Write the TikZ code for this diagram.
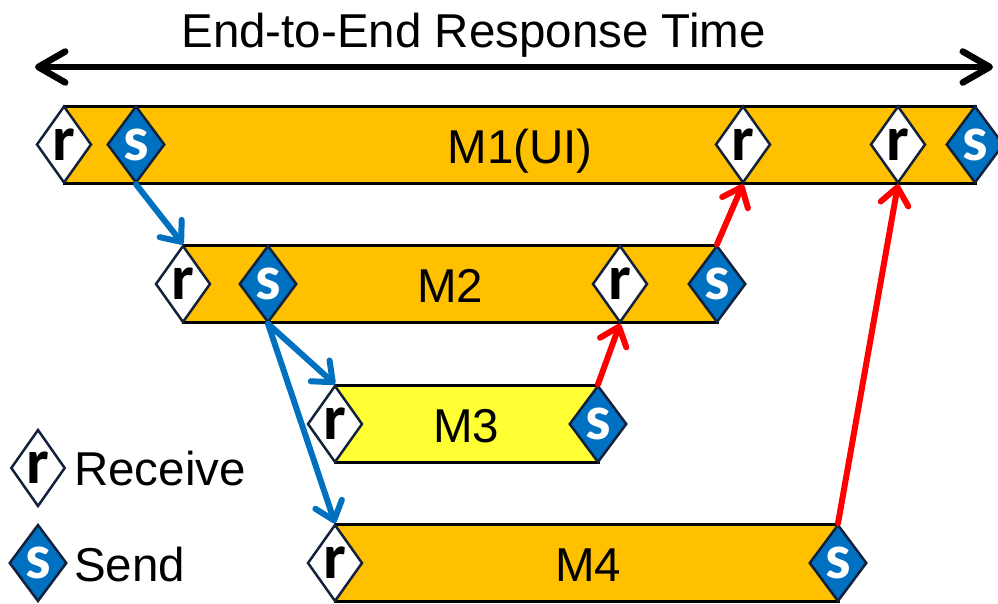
\documentclass[tikz,border=0pt]{standalone}
\usepackage{fontspec}
\setmainfont{Liberation Sans}
\newfontfamily\markfont{Carlito}
\usetikzlibrary{shapes.geometric,arrows.meta}

\definecolor{barorange}{HTML}{FFC000}
\definecolor{baryellow}{HTML}{FFFF33}
\definecolor{sendblue}{HTML}{0070C0}
\definecolor{edgenavy}{HTML}{14213D}
\definecolor{replyred}{HTML}{FF0000}

\tikzset{
  bar/.style={draw=black, line width=3pt, fill=barorange},
  eventmark/.style={diamond, draw=edgenavy, line width=2.5pt, inner sep=0pt,
    minimum width=55pt, minimum height=77pt,
    font=\markfont\bfseries\fontsize{64}{64}\selectfont},
  recvmark/.style={eventmark, fill=white, text=black},
  sendmark/.style={eventmark, fill=sendblue, text=white},
  bartext/.style={font=\fontsize{47.5}{50}\selectfont, inner sep=0pt, anchor=base},
  callarrow/.style={draw=sendblue, line width=6pt, line cap=round,
    -{Straight Barb[length=17pt, width=28pt, line cap=round, line join=round]}},
  replyarrow/.style={callarrow, draw=replyred},
  spanarrow/.style={draw=black, line width=6.5pt,
    {Straight Barb[length=27pt, width=31pt, line cap=round, line join=round]}-{Straight Barb[length=27pt, width=31pt, line cap=round, line join=round]}},
}

\begin{document}
\begin{tikzpicture}[x=1pt, y=-1pt]
  \useasboundingbox (0,0) rectangle (998,603);

  % end-to-end span
  \node[bartext] (title) at (473.5,47) {End-to-End Response Time};
  \coordinate (spanL) at (35,67);
  \coordinate (spanR) at (993,67);
  \draw[spanarrow] (spanL) -- (spanR);

  % event positions on each module bar
  \coordinate (r11) at (64,144.5);  \coordinate (s11) at (136,144.5);
  \coordinate (r12) at (743,144.5); \coordinate (r13) at (898,144.5);
  \coordinate (s12) at (975,144.5);
  \coordinate (r21) at (183,284);   \coordinate (s21) at (268,284);
  \coordinate (r22) at (620,284);   \coordinate (s22) at (717,284);
  \coordinate (r31) at (335,424);   \coordinate (s31) at (598,424);
  \coordinate (r41) at (335,563);   \coordinate (s41) at (838,563);

  % module bars
  \path[bar] ([yshift=38.5pt]r11) rectangle ([yshift=-38.5pt]s12);
  \path[bar] ([yshift=38.5pt]r21) rectangle ([yshift=-38.5pt]s22);
  \path[bar, fill=baryellow] ([yshift=38.5pt]r31) rectangle ([yshift=-38.5pt]s31);
  \path[bar] ([yshift=38.5pt]r41) rectangle ([yshift=-38.5pt]s41);

  \node[bartext] (m1) at (520,163) {M1(UI)};
  \node[bartext] (m2) at (450,302) {M2};
  \node[bartext] (m3) at (466,442) {M3};
  \node[bartext] (m4) at (588,581) {M4};

  % receive / send events
  \node[recvmark] (R11) at (r11) {r};
  \node[sendmark] (S11) at (s11) {s};
  \node[recvmark] (R12) at (r12) {r};
  \node[recvmark] (R13) at (r13) {r};
  \node[sendmark] (S12) at (s12) {s};
  \node[recvmark] (R21) at (r21) {r};
  \node[sendmark] (S21) at (s21) {s};
  \node[recvmark] (R22) at (r22) {r};
  \node[sendmark] (S22) at (s22) {s};
  \node[recvmark] (R31) at (r31) {r};
  \node[sendmark] (S31) at (s31) {s};
  \node[recvmark] (R41) at (r41) {r};
  \node[sendmark] (S41) at (s41) {s};

  % calls
  \draw[callarrow] (S11.south) -- (R21.north);
  \draw[callarrow] (S21.south) -- (R31.north);
  \draw[callarrow] (S21.south) -- (R41.north);

  % replies
  \draw[replyarrow] (S31.north) -- (R22.south);
  \draw[replyarrow] (S22.north) -- (R12.south);
  \draw[replyarrow] (S41.north) -- (R13.south);

  % legend
  \node[recvmark, minimum width=53pt] (keyR) at (38,468) {r};
  \node[bartext, anchor=base west] (keyRtext) at (74,485) {Receive};
  \node[sendmark, minimum width=53pt] (keyS) at (38,563) {s};
  \node[bartext, anchor=base west] (keyStext) at (74,581) {Send};
\end{tikzpicture}
\end{document}
